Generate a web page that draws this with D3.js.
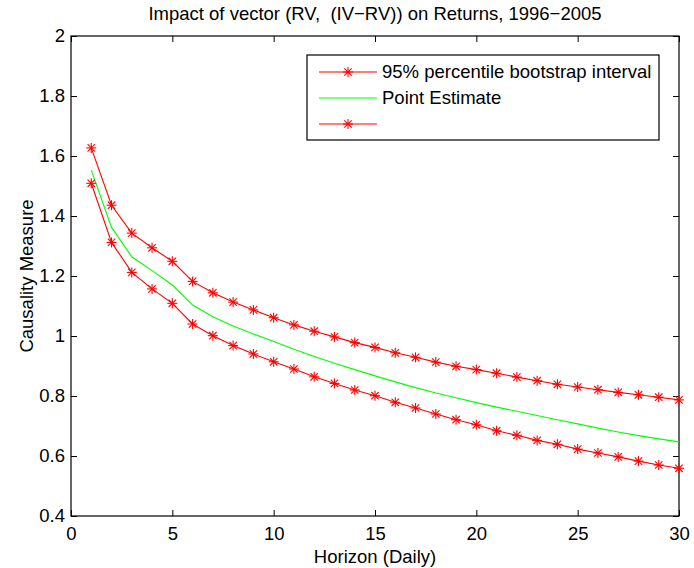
<!DOCTYPE html>
<html>
<head>
<meta charset="utf-8">
<script src="https://cdn.jsdelivr.net/npm/d3@7"></script>
<style>
  body { margin: 0; background: #fff; }
  text { font-family: "Liberation Sans", Arial, Helvetica, sans-serif; font-size: 18.5px; fill: #000; }
</style>
</head>
<body>
<div id="chart"></div>
<script>
// causality measure by horizon, bootstrap band + point estimate

const horizon = [1, 2, 3, 4, 5, 6, 7, 8, 9, 10, 11, 12, 13, 14, 15, 16, 17, 18, 19, 20, 21, 22, 23, 24, 25, 26, 27, 28, 29, 30];
const upperBand = [1.627, 1.436, 1.343, 1.294, 1.249, 1.182, 1.144, 1.113, 1.087, 1.061, 1.037, 1.016, 0.997, 0.978, 0.962,
                   0.944, 0.929, 0.913, 0.899, 0.888, 0.876, 0.863, 0.851, 0.839, 0.830, 0.821, 0.812, 0.804, 0.796, 0.787];
const pointEstimate = [1.553, 1.362, 1.264, 1.218, 1.170, 1.103, 1.064, 1.033, 1.007, 0.982, 0.956, 0.932, 0.909, 0.888, 0.867,
                       0.847, 0.828, 0.810, 0.794, 0.778, 0.763, 0.749, 0.735, 0.721, 0.707, 0.693, 0.680, 0.668, 0.657, 0.647];
const lowerBand = [1.509, 1.312, 1.212, 1.157, 1.109, 1.040, 1.001, 0.968, 0.940, 0.914, 0.890, 0.864, 0.842, 0.820, 0.801,
                   0.779, 0.760, 0.740, 0.721, 0.704, 0.684, 0.669, 0.652, 0.639, 0.623, 0.610, 0.597, 0.583, 0.570, 0.559];

const xTicks = [0, 5, 10, 15, 20, 25, 30];
const yTicks = [0.4, 0.6, 0.8, 1, 1.2, 1.4, 1.6, 1.8, 2];
const legendLabels = ["95% percentile bootstrap interval", "Point Estimate", ""];

const W = 694, H = 568;
var margin = {top: 36, right: 15, bottom: 52, left: 71};
var width = W - margin.left - margin.right;
var height = H - margin.top - margin.bottom;

let svg = d3.select("#chart").append("svg")
    .attr("width", W)
    .attr("height", H);

svg.append("rect").attr("width", W).attr("height", H).attr("fill", "#fff");

let g = svg.append("g")
    .attr("transform", "translate(" + margin.left + "," + margin.top + ")");

let x = d3.scaleLinear().domain([0, 30]).range([0, width]);
let y = d3.scaleLinear().domain([0.4, 2]).range([height, 0]);

// axes, ticks pointing inwards on all four sides
g.append("g")
    .attr("transform", "translate(0," + height + ")")
    .call(d3.axisBottom(x).tickValues(xTicks).tickSizeInner(-6).tickSizeOuter(0).tickPadding(11))
    .call(a => a.select(".domain").remove());
g.append("g")
    .call(d3.axisTop(x).tickValues(xTicks).tickSizeInner(-6).tickSizeOuter(0).tickFormat(""))
    .call(a => a.select(".domain").remove());
g.append("g")
    .call(d3.axisLeft(y).tickValues(yTicks).tickSizeInner(-6).tickSizeOuter(0).tickPadding(6).tickFormat(d3.format("~g")))
    .call(a => a.select(".domain").remove());
g.append("g")
    .attr("transform", "translate(" + width + ",0)")
    .call(d3.axisRight(y).tickValues(yTicks).tickSizeInner(-6).tickSizeOuter(0).tickFormat(""))
    .call(a => a.select(".domain").remove());

g.selectAll(".tick line").attr("stroke", "#000");
g.selectAll(".tick text").style("font-size", "18.5px").attr("font-family", null);

g.append("rect")
    .attr("width", width)
    .attr("height", height)
    .attr("fill", "none")
    .attr("stroke", "#000")
    .attr("stroke-width", 1.2);

// star marker = plus + cross
function star(sel, cx, cy, colour) {
    let r = 5, d = 3.7;
    let s = sel.append("g").attr("transform", "translate(" + cx + "," + cy + ")")
        .attr("stroke", colour).attr("stroke-width", 1.1);
    s.append("line").attr("x1", -r).attr("x2", r);
    s.append("line").attr("y1", -r).attr("y2", r);
    s.append("line").attr("x1", -d).attr("y1", -d).attr("x2", d).attr("y2", d);
    s.append("line").attr("x1", -d).attr("y1", d).attr("x2", d).attr("y2", -d);
}

let line = d3.line()
    .x((d, i) => x(horizon[i]))
    .y(d => y(d));

let series = [
    {vals: upperBand, colour: "#ff0000", marker: true},
    {vals: pointEstimate, colour: "#00ff00", marker: false},
    {vals: lowerBand, colour: "#ff0000", marker: true}
];

series.forEach(function(s) {
    g.append("path")
        .attr("d", line(s.vals))
        .attr("fill", "none")
        .attr("stroke", s.colour)
        .attr("stroke-width", 1.1);
    if (s.marker) {
        s.vals.forEach((v, i) => star(g, x(horizon[i]), y(v), s.colour));
    }
});

// legend
let lg = svg.append("g");
lg.append("rect")
    .attr("x", 307).attr("y", 55)
    .attr("width", 352).attr("height", 85)
    .attr("fill", "#fff")
    .attr("stroke", "#000")
    .attr("stroke-width", 1.2);

series.forEach(function(s, i) {
    let ly = 72 + i * 26;
    lg.append("line")
        .attr("x1", 319).attr("x2", 377)
        .attr("y1", ly).attr("y2", ly)
        .attr("stroke", s.colour)
        .attr("stroke-width", 1.1);
    if (s.marker) star(lg, 348, ly, s.colour);
    lg.append("text")
        .attr("x", 382).attr("y", ly)
        .attr("dy", "0.35em")
        .text(legendLabels[i]);
});

// titles
svg.append("text")
    .attr("x", margin.left + width / 2).attr("y", 20)
    .attr("text-anchor", "middle")
    .text("Impact of vector (RV,  (IV\u2212RV)) on Returns, 1996\u22122005")
    .style("white-space", "pre");

svg.append("text")
    .attr("x", margin.left + width / 2).attr("y", 563)
    .attr("text-anchor", "middle")
    .text("Horizon (Daily)");

svg.append("text")
    .attr("transform", "translate(33," + (margin.top + height / 2) + ") rotate(-90)")
    .attr("text-anchor", "middle")
    .text("Causality Measure");
</script>
</body>
</html>
